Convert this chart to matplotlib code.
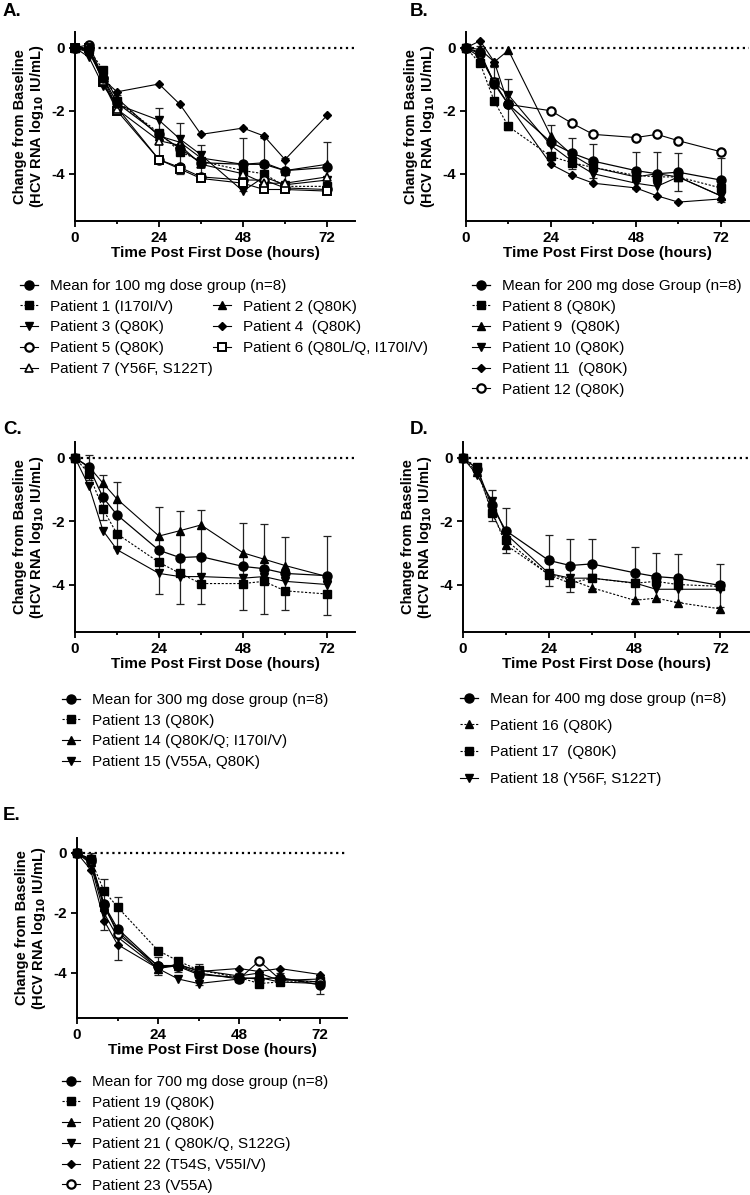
import matplotlib
matplotlib.use("Agg")
import matplotlib.pyplot as plt
import numpy as np

plt.rcParams['font.family'] = ['Liberation Sans', 'DejaVu Sans']

# sampling times (hours)
times = [0, 4, 8, 12, 24, 30, 36, 48, 54, 60, 72]

# ---- panel A: 100 mg ----
mean_100 = [0, -0.05, -0.95, -1.75, -2.75, -3.2, -3.65, -3.7, -3.7, -3.9, -3.8]
sd_100 = [0, 0.1, 0.25, 0.25, 0.85, 0.8, 0.55, 0.85, 0.85, 0.4, 0.8]
p1 = [0, -0.05, -0.7, -1.7, -2.7, -3.3, -3.6, -3.9, -4.0, -4.4, -4.4]
p2 = [0, -0.1, -0.9, -1.6, -2.8, -3.0, -3.5, -3.7, -3.65, -3.9, -3.7]
p3 = [0, -0.3, -1.2, -1.8, -2.3, -2.9, -3.4, -4.55, -4.1, -4.35, -4.2]
p4 = [0, -0.15, -1.0, -1.4, -1.15, -1.8, -2.75, -2.55, -2.8, -3.55, -2.15]
p5 = [0, 0.1, -0.95, -1.9, -3.55, -3.8, -4.1, -4.2, -4.2, -4.45, -4.5]
p6 = [0, 0.0, -1.1, -2.0, -3.55, -3.85, -4.15, -4.3, -4.5, -4.5, -4.55]
p7 = [0, -0.05, -1.05, -1.95, -2.95, -3.1, -3.7, -4.0, -4.3, -4.3, -4.1]

# ---- panel B: 200 mg ----
mean_200 = [0, -0.15, -1.15, -1.8, -3.0, -3.35, -3.6, -3.9, -4.0, -3.95, -4.2]
sd_200 = [0, 0.2, 0.55, 0.8, 0.55, 0.5, 0.55, 0.6, 0.7, 0.6, 0.7]
p8 = [0, -0.5, -1.7, -2.5, -3.45, -3.65, -3.8, -4.05, -4.1, -4.1, -4.45]
p9 = [0, -0.05, -0.45, -0.08, -2.8, -3.4, -3.8, -4.1, -4.0, -4.1, -4.7]
p10 = [0, -0.3, -1.1, -1.5, -3.1, -3.6, -4.0, -4.3, -4.4, -4.1, -4.7]
p11 = [0, 0.22, -0.45, -1.8, -3.7, -4.05, -4.3, -4.45, -4.7, -4.9, -4.8]
p12 = [0, -0.2, -1.1, -1.8, -2.0, -2.4, -2.75, -2.85, -2.75, -2.95, -3.3]

# ---- panel C: 300 mg ----
mean_300 = [0, -0.3, -1.25, -1.8, -2.92, -3.15, -3.12, -3.43, -3.5, -3.65, -3.72]
sd_300 = [0, 0.4, 0.7, 1.05, 1.37, 1.47, 1.48, 1.36, 1.42, 1.15, 1.25]
p13 = [0, -0.5, -1.62, -2.4, -3.3, -3.65, -3.97, -3.97, -3.9, -4.2, -4.3]
p14 = [0, -0.28, -0.8, -1.3, -2.47, -2.3, -2.12, -3.0, -3.2, -3.4, -3.75]
p15 = [0, -0.9, -2.3, -2.9, -3.65, -3.75, -3.75, -3.8, -3.75, -3.9, -4.0]

# ---- panel D: 400 mg ----
mean_400 = [0, -0.35, -1.5, -2.3, -3.24, -3.4, -3.35, -3.63, -3.75, -3.8, -4.03]
sd_400 = [0, 0.15, 0.5, 0.72, 0.8, 0.85, 0.8, 0.83, 0.75, 0.75, 0.68]
p16 = [0, -0.45, -1.65, -2.75, -3.68, -3.85, -4.1, -4.5, -4.43, -4.57, -4.77]
p17 = [0, -0.3, -1.75, -2.6, -3.7, -3.96, -3.8, -3.96, -3.9, -4.0, -4.06]
p18 = [0, -0.55, -1.35, -2.4, -3.65, -3.8, -3.8, -3.95, -4.15, -4.15, -4.15]

# ---- panel E: 700 mg ----
mean_700 = [0, -0.2, -1.72, -2.52, -3.78, -3.78, -4.05, -4.15, -4.2, -4.15, -4.4]
sd_700 = [0, 0.2, 0.85, 1.05, 0.3, 0.2, 0.35, 0.15, 0.2, 0.15, 0.3]
p19 = [0, -0.2, -1.26, -1.8, -3.25, -3.6, -3.9, -4.15, -4.35, -4.3, -4.28]
p20 = [0, -0.3, -1.8, -2.6, -3.85, -3.75, -3.9, -4.1, -4.0, -4.25, -4.2]
p21 = [0, -0.35, -2.0, -2.8, -3.85, -4.2, -4.35, -4.2, -4.15, -4.3, -4.35]
p22 = [0, -0.55, -2.25, -3.05, -3.85, -3.7, -3.95, -3.85, -3.95, -3.85, -4.05]
p23 = [0, -0.25, -1.7, -2.7, -3.75, -3.75, -4.0, -4.2, -3.6, -4.2, -4.3]

# marker styles
MEAN = dict(marker='o', ms=6.5, mfc='black', ls='-')
SQ_D = dict(marker='s', ms=5.5, mfc='black', ls=(0, (2, 1.5)))
TRI = dict(marker='^', ms=6, mfc='black', ls='-')
TRI_D = dict(marker='^', ms=6, mfc='black', ls=(0, (2, 1.5)))
DOWN = dict(marker='v', ms=6, mfc='black', ls='-')
DIA = dict(marker='D', ms=4, mfc='black', ls='-')
OCIRC = dict(marker='o', ms=6, mfc='white', mew=1.6, ls='-')
OSQ = dict(marker='s', ms=6, mfc='white', mew=1.4, ls='-')
OTRI = dict(marker='^', ms=6, mfc='white', mew=1.2, ls='-')

W, H = 750, 1195
fig = plt.figure(figsize=(W / 100, H / 100), dpi=100)


def px_axes(left, right, top, bottom):
    return fig.add_axes([left / W, 1 - bottom / H, (right - left) / W, (bottom - top) / H])


def draw_panel(ax, mean, sd, mean_label, series):
    ax.axhline(0, color='black', ls=':', lw=1.6, zorder=1)
    ax.errorbar(times, mean, yerr=sd, fmt='none', ecolor='#222222',
                elinewidth=0.9, capsize=3, capthick=0.9, zorder=2, clip_on=False)
    handles = []
    for vals, st, lab in series:
        h, = ax.plot(times, vals, color='black', lw=0.8, mec='black',
                     label=lab, clip_on=False, zorder=3, **st)
        handles.append(h)
    h, = ax.plot(times, mean, color='black', lw=0.9, mec='black',
                 label=mean_label, clip_on=False, zorder=4, **MEAN)
    handles.insert(0, h)

    ax.set_xlim(0, 80)
    ax.set_ylim(-5.5, 0.5)
    ax.set_xticks([0, 24, 48, 72])
    ax.set_xticks([12, 36, 60], minor=True)
    ax.set_yticks([0, -2, -4])
    ax.set_yticklabels(['0', '-2', '-4'])
    for s in ['top', 'right']:
        ax.spines[s].set_visible(False)
    for s in ['left', 'bottom']:
        ax.spines[s].set_linewidth(1.4)
    ax.tick_params(which='major', length=4, width=1.3, labelsize=11, pad=3)
    ax.tick_params(which='minor', length=2.5, width=1.3)
    for t in ax.get_xticklabels() + ax.get_yticklabels():
        t.set_fontweight('bold')
    ax.set_xlabel('Time Post First Dose (hours)', fontsize=11,
                  fontweight='bold', labelpad=1)
    ax.set_ylabel('Change from Baseline\n(HCV RNA log$_{\\mathbf{10}}$ IU/mL)',
                  fontsize=10.5, fontweight='bold', labelpad=4, linespacing=1.1)
    return handles


def add_legend(handles, x, y, spacing=0.44):
    fig.legend(handles=handles, loc='upper left',
               bbox_to_anchor=(x / W, 1 - y / H), bbox_transform=fig.transFigure,
               frameon=False, borderpad=0, handlelength=1.15, handletextpad=0.8,
               labelspacing=spacing, fontsize=11, borderaxespad=0)


# A
axA = px_axes(75, 355, 32, 221)
hA = draw_panel(axA, mean_100, sd_100, 'Mean for 100 mg dose group (n=8)', [
    (p1, SQ_D, 'Patient 1 (I170I/V)'),
    (p2, TRI, 'Patient 2 (Q80K)'),
    (p3, DOWN, 'Patient 3 (Q80K)'),
    (p4, DIA, 'Patient 4  (Q80K)'),
    (p5, OCIRC, 'Patient 5 (Q80K)'),
    (p6, OSQ, 'Patient 6 (Q80L/Q, I170I/V)'),
    (p7, OTRI, 'Patient 7 (Y56F, S122T)'),
])
add_legend([hA[0], hA[1], hA[3], hA[5], hA[7]], 20, 279)
add_legend([hA[2], hA[4], hA[6]], 213, 299.5)

# B
axB = px_axes(466, 749, 32, 221)
hB = draw_panel(axB, mean_200, sd_200, 'Mean for 200 mg dose Group (n=8)', [
    (p8, SQ_D, 'Patient 8 (Q80K)'),
    (p9, TRI, 'Patient 9  (Q80K)'),
    (p10, DOWN, 'Patient 10 (Q80K)'),
    (p11, DIA, 'Patient 11  (Q80K)'),
    (p12, OCIRC, 'Patient 12 (Q80K)'),
])
add_legend(hB, 472, 279)

# C
axC = px_axes(75, 355, 442, 632)
hC = draw_panel(axC, mean_300, sd_300, 'Mean for 300 mg dose group (n=8)', [
    (p13, SQ_D, 'Patient 13 (Q80K)'),
    (p14, TRI, 'Patient 14 (Q80K/Q; I170I/V)'),
    (p15, DOWN, 'Patient 15 (V55A, Q80K)'),
])
add_legend(hC, 62, 693)

# D
axD = px_axes(463, 749, 442, 632)
hD = draw_panel(axD, mean_400, sd_400, 'Mean for 400 mg dose group (n=8)', [
    (p16, TRI_D, 'Patient 16 (Q80K)'),
    (p17, SQ_D, 'Patient 17  (Q80K)'),
    (p18, DOWN, 'Patient 18 (Y56F, S122T)'),
])
add_legend(hD, 460, 692, spacing=0.83)

# E
axE = px_axes(77, 347, 838, 1018)
hE = draw_panel(axE, mean_700, sd_700, 'Mean for 700 mg dose group (n=8)', [
    (p19, SQ_D, 'Patient 19 (Q80K)'),
    (p20, TRI, 'Patient 20 (Q80K)'),
    (p21, DOWN, 'Patient 21 ( Q80K/Q, S122G)'),
    (p22, DIA, 'Patient 22 (T54S, V55I/V)'),
    (p23, OCIRC, 'Patient 23 (V55A)'),
])
add_legend(hE, 62, 1075)

# panel letters
for lab, x, y in [('A.', 3, 12), ('B.', 410, 12), ('C.', 3, 430),
                  ('D.', 410, 430), ('E.', 3, 816)]:
    fig.text(x / W, 1 - y / H, lab, fontsize=13.5, fontweight='bold', va='center')

fig.savefig('out.png', dpi=100)
